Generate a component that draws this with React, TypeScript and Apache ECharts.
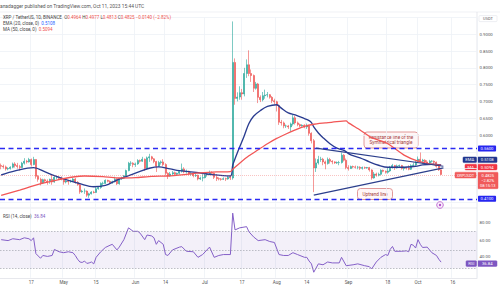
import React, { useEffect, useRef } from "react";
import * as echarts from "echarts";

// ---------- categories ----------
const START_UTC = Date.UTC(2023, 3, 4);
const DAY_COUNT = 206; // Apr 4 .. Oct 26 2023
const dates: string[] = [];
for (let i = 0; i < DAY_COUNT; i++) {
  dates.push(new Date(START_UTC + i * 86400000).toISOString().slice(0, 10));
}
const dateTicks: Record<string, string> = {
  "2023-04-17": "17", "2023-05-01": "May", "2023-05-15": "15", "2023-06-01": "Jun",
  "2023-06-14": "14", "2023-07-01": "Jul", "2023-07-17": "17", "2023-08-01": "Aug",
  "2023-08-14": "14", "2023-09-01": "Sep", "2023-09-18": "18", "2023-10-01": "Oct",
  "2023-10-16": "16",
};
const priceTickLabels = ["0.60", "0.65", "0.70", "0.75", "0.80", "0.85", "0.90"];
const rsiTickLabels = [40, 60, 80];

// ---------- daily candles [open, close, low, high] ----------
const aprCandles = [
  [0.509, 0.507, 0.498, 0.515], [0.507, 0.505, 0.5, 0.512], [0.505, 0.499, 0.494, 0.509], [0.499, 0.5, 0.495, 0.504],
  [0.5, 0.504, 0.497, 0.507], [0.504, 0.514, 0.501, 0.518], [0.514, 0.509, 0.503, 0.519], [0.509, 0.506, 0.5, 0.517],
  [0.506, 0.503, 0.494, 0.511], [0.503, 0.516, 0.502, 0.52], [0.516, 0.522, 0.512, 0.531], [0.522, 0.52, 0.515, 0.526],
  [0.52, 0.527, 0.518, 0.532], [0.527, 0.512, 0.506, 0.53], [0.512, 0.527, 0.51, 0.535], [0.527, 0.477, 0.47, 0.528],
  [0.477, 0.468, 0.461, 0.481], [0.468, 0.457, 0.45, 0.473], [0.457, 0.467, 0.454, 0.47], [0.467, 0.463, 0.458, 0.47],
  [0.463, 0.461, 0.452, 0.468], [0.461, 0.468, 0.455, 0.47], [0.468, 0.46, 0.452, 0.484], [0.46, 0.474, 0.458, 0.479],
  [0.474, 0.474, 0.468, 0.478], [0.474, 0.471, 0.468, 0.477], [0.471, 0.469, 0.465, 0.477],
];
const mayCandles = [
  [0.469, 0.46, 0.452, 0.472], [0.46, 0.463, 0.456, 0.466], [0.463, 0.461, 0.452, 0.466], [0.461, 0.462, 0.458, 0.467],
  [0.462, 0.469, 0.46, 0.473], [0.469, 0.459, 0.455, 0.472], [0.459, 0.452, 0.449, 0.463], [0.452, 0.431, 0.425, 0.454],
  [0.431, 0.433, 0.428, 0.437], [0.433, 0.433, 0.425, 0.441], [0.433, 0.421, 0.416, 0.435], [0.421, 0.425, 0.413, 0.428],
  [0.425, 0.43, 0.423, 0.433], [0.43, 0.429, 0.426, 0.434], [0.429, 0.44, 0.428, 0.445], [0.44, 0.444, 0.437, 0.447],
  [0.444, 0.456, 0.44, 0.459], [0.456, 0.456, 0.449, 0.461], [0.456, 0.465, 0.455, 0.468], [0.465, 0.462, 0.459, 0.467],
  [0.462, 0.458, 0.455, 0.465], [0.458, 0.461, 0.455, 0.464], [0.461, 0.468, 0.459, 0.476], [0.468, 0.455, 0.451, 0.47],
  [0.455, 0.47, 0.452, 0.472], [0.47, 0.471, 0.466, 0.476], [0.471, 0.478, 0.469, 0.481], [0.478, 0.494, 0.476, 0.497],
  [0.494, 0.516, 0.492, 0.52], [0.516, 0.516, 0.508, 0.522], [0.516, 0.512, 0.504, 0.519],
];
const junCandles = [
  [0.512, 0.514, 0.505, 0.518], [0.514, 0.524, 0.511, 0.528], [0.524, 0.522, 0.518, 0.527], [0.522, 0.528, 0.52, 0.535],
  [0.528, 0.501, 0.493, 0.53], [0.501, 0.532, 0.496, 0.536], [0.532, 0.535, 0.52, 0.544], [0.535, 0.529, 0.524, 0.538],
  [0.529, 0.521, 0.516, 0.531], [0.521, 0.507, 0.49, 0.523], [0.507, 0.518, 0.505, 0.523], [0.518, 0.52, 0.512, 0.524],
  [0.52, 0.512, 0.507, 0.528], [0.512, 0.486, 0.48, 0.516], [0.486, 0.478, 0.469, 0.489], [0.478, 0.484, 0.476, 0.49],
  [0.484, 0.488, 0.481, 0.493], [0.488, 0.483, 0.48, 0.491], [0.483, 0.486, 0.479, 0.488], [0.486, 0.492, 0.482, 0.495],
  [0.492, 0.499, 0.488, 0.515], [0.499, 0.49, 0.486, 0.504], [0.49, 0.492, 0.485, 0.497], [0.492, 0.484, 0.48, 0.494],
  [0.484, 0.484, 0.479, 0.49], [0.484, 0.479, 0.474, 0.488], [0.479, 0.48, 0.475, 0.486], [0.48, 0.469, 0.465, 0.482],
  [0.469, 0.472, 0.466, 0.476], [0.472, 0.473, 0.462, 0.487],
];
const julCandles = [
  [0.473, 0.481, 0.471, 0.485], [0.481, 0.483, 0.476, 0.487], [0.483, 0.488, 0.48, 0.494], [0.488, 0.486, 0.481, 0.492],
  [0.486, 0.474, 0.469, 0.488], [0.474, 0.47, 0.463, 0.484], [0.47, 0.469, 0.465, 0.474], [0.469, 0.468, 0.464, 0.472],
  [0.468, 0.47, 0.466, 0.474], [0.47, 0.469, 0.463, 0.473], [0.469, 0.474, 0.467, 0.478], [0.474, 0.472, 0.466, 0.481],
  [0.472, 0.816, 0.467, 0.938], [0.816, 0.709, 0.69, 0.828], [0.709, 0.713, 0.7, 0.727], [0.713, 0.726, 0.705, 0.745],
  [0.726, 0.722, 0.705, 0.737], [0.722, 0.783, 0.715, 0.8], [0.783, 0.809, 0.77, 0.825], [0.809, 0.783, 0.775, 0.852],
  [0.783, 0.777, 0.758, 0.795], [0.777, 0.739, 0.728, 0.78], [0.739, 0.752, 0.735, 0.758], [0.752, 0.712, 0.695, 0.755],
  [0.712, 0.705, 0.698, 0.718], [0.705, 0.717, 0.7, 0.728], [0.717, 0.719, 0.708, 0.735], [0.719, 0.72, 0.712, 0.728],
  [0.72, 0.712, 0.708, 0.722], [0.712, 0.702, 0.695, 0.716], [0.702, 0.699, 0.691, 0.708],
];
const augCandles = [
  [0.699, 0.688, 0.67, 0.702], [0.688, 0.638, 0.63, 0.69], [0.638, 0.636, 0.628, 0.645], [0.636, 0.627, 0.62, 0.64],
  [0.627, 0.627, 0.621, 0.631], [0.627, 0.624, 0.618, 0.63], [0.624, 0.633, 0.61, 0.637], [0.633, 0.651, 0.628, 0.66],
  [0.651, 0.636, 0.631, 0.657], [0.636, 0.631, 0.626, 0.64], [0.631, 0.627, 0.623, 0.634], [0.627, 0.629, 0.625, 0.632],
  [0.629, 0.624, 0.62, 0.632], [0.624, 0.627, 0.618, 0.634], [0.627, 0.605, 0.598, 0.63], [0.605, 0.583, 0.575, 0.608],
  [0.583, 0.502, 0.43, 0.588], [0.502, 0.517, 0.49, 0.53], [0.517, 0.527, 0.512, 0.538], [0.527, 0.528, 0.52, 0.535],
  [0.528, 0.52, 0.51, 0.532], [0.52, 0.515, 0.498, 0.524], [0.515, 0.527, 0.512, 0.533], [0.527, 0.522, 0.515, 0.532],
  [0.522, 0.52, 0.513, 0.525], [0.52, 0.517, 0.514, 0.522], [0.517, 0.518, 0.514, 0.521], [0.518, 0.518, 0.51, 0.523],
  [0.518, 0.54, 0.515, 0.548], [0.54, 0.525, 0.521, 0.543], [0.525, 0.503, 0.498, 0.53],
];
const sepCandles = [
  [0.503, 0.5, 0.494, 0.51], [0.5, 0.506, 0.499, 0.509], [0.506, 0.505, 0.501, 0.509], [0.505, 0.504, 0.5, 0.509],
  [0.504, 0.504, 0.498, 0.508], [0.504, 0.501, 0.496, 0.507], [0.501, 0.503, 0.497, 0.506], [0.503, 0.502, 0.499, 0.506],
  [0.502, 0.503, 0.5, 0.505], [0.503, 0.496, 0.491, 0.505], [0.496, 0.472, 0.467, 0.498], [0.472, 0.484, 0.47, 0.49],
  [0.484, 0.48, 0.476, 0.488], [0.48, 0.483, 0.477, 0.488], [0.483, 0.495, 0.48, 0.498], [0.495, 0.492, 0.489, 0.497],
  [0.492, 0.489, 0.485, 0.494], [0.489, 0.493, 0.485, 0.502], [0.493, 0.503, 0.49, 0.508], [0.503, 0.509, 0.5, 0.514],
  [0.509, 0.502, 0.496, 0.511], [0.502, 0.508, 0.5, 0.512], [0.508, 0.509, 0.504, 0.512], [0.509, 0.5, 0.497, 0.511],
  [0.5, 0.503, 0.494, 0.506], [0.503, 0.501, 0.497, 0.505], [0.501, 0.498, 0.495, 0.51], [0.498, 0.509, 0.496, 0.513],
  [0.509, 0.511, 0.505, 0.518], [0.511, 0.52, 0.509, 0.523],
];
const octCandles = [
  [0.52, 0.528, 0.517, 0.536], [0.528, 0.522, 0.518, 0.548], [0.522, 0.525, 0.514, 0.529], [0.525, 0.52, 0.515, 0.528],
  [0.52, 0.517, 0.512, 0.525], [0.517, 0.522, 0.514, 0.526], [0.522, 0.522, 0.518, 0.525], [0.522, 0.519, 0.513, 0.524],
  [0.519, 0.507, 0.503, 0.521], [0.507, 0.4964, 0.493, 0.51], [0.4964, 0.4825, 0.4813, 0.4977],
];

// ---------- indicators ----------
const ema20: [string, number][] = [
  ["2023-04-04", 0.481], ["2023-04-10", 0.493], ["2023-04-18", 0.503], ["2023-04-23", 0.49], ["2023-04-27", 0.479],
  ["2023-05-02", 0.467], ["2023-05-08", 0.455], ["2023-05-14", 0.446], ["2023-05-19", 0.45], ["2023-05-24", 0.466],
  ["2023-05-28", 0.476], ["2023-06-03", 0.492], ["2023-06-07", 0.501], ["2023-06-11", 0.505], ["2023-06-16", 0.499],
  ["2023-06-20", 0.494], ["2023-06-29", 0.487], ["2023-07-04", 0.482], ["2023-07-12", 0.478], ["2023-07-13", 0.51],
  ["2023-07-14", 0.529], ["2023-07-16", 0.564], ["2023-07-18", 0.598], ["2023-07-20", 0.634], ["2023-07-22", 0.656],
  ["2023-07-25", 0.673], ["2023-07-28", 0.685], ["2023-08-01", 0.69], ["2023-08-03", 0.68], ["2023-08-06", 0.666],
  ["2023-08-09", 0.66], ["2023-08-13", 0.649], ["2023-08-15", 0.643], ["2023-08-16", 0.637], ["2023-08-17", 0.624],
  ["2023-08-19", 0.606], ["2023-08-21", 0.592], ["2023-08-24", 0.574], ["2023-08-27", 0.561], ["2023-08-30", 0.554],
  ["2023-09-02", 0.541], ["2023-09-06", 0.532], ["2023-09-10", 0.52], ["2023-09-14", 0.51], ["2023-09-18", 0.504],
  ["2023-09-24", 0.504], ["2023-09-30", 0.507], ["2023-10-03", 0.511], ["2023-10-07", 0.513], ["2023-10-11", 0.5108],
];
const sma50: [string, number][] = [
  ["2023-04-04", 0.42], ["2023-04-12", 0.436], ["2023-04-20", 0.453], ["2023-04-28", 0.466], ["2023-05-05", 0.475],
  ["2023-05-10", 0.478], ["2023-05-18", 0.476], ["2023-05-24", 0.472], ["2023-06-01", 0.473], ["2023-06-08", 0.477],
  ["2023-06-15", 0.478], ["2023-06-22", 0.482], ["2023-06-29", 0.487], ["2023-07-06", 0.49], ["2023-07-12", 0.491],
  ["2023-07-13", 0.498], ["2023-07-16", 0.516], ["2023-07-20", 0.538], ["2023-07-24", 0.556], ["2023-07-28", 0.574],
  ["2023-08-01", 0.59], ["2023-08-05", 0.603], ["2023-08-09", 0.615], ["2023-08-13", 0.626], ["2023-08-17", 0.632],
  ["2023-08-22", 0.636], ["2023-08-27", 0.64], ["2023-08-31", 0.642], ["2023-09-01", 0.636], ["2023-09-06", 0.615],
  ["2023-09-11", 0.592], ["2023-09-18", 0.574], ["2023-09-25", 0.54], ["2023-10-01", 0.522], ["2023-10-06", 0.514],
  ["2023-10-11", 0.5094],
];
const rsi14: [string, number][] = [
  ["2023-04-04", 61], ["2023-04-07", 60], ["2023-04-09", 62], ["2023-04-12", 61], ["2023-04-14", 63], ["2023-04-16", 62],
  ["2023-04-17", 60], ["2023-04-18", 63], ["2023-04-19", 46], ["2023-04-21", 41], ["2023-04-22", 44], ["2023-04-24", 43],
  ["2023-04-26", 44], ["2023-04-27", 50.5], ["2023-04-29", 48], ["2023-05-01", 47], ["2023-05-03", 48], ["2023-05-05", 47],
  ["2023-05-06", 44], ["2023-05-07", 40], ["2023-05-08", 37], ["2023-05-09", 36.5], ["2023-05-10", 38], ["2023-05-11", 35.5],
  ["2023-05-12", 36], ["2023-05-13", 37], ["2023-05-14", 35], ["2023-05-15", 42], ["2023-05-17", 48], ["2023-05-19", 52.6],
  ["2023-05-21", 55], ["2023-05-22", 56], ["2023-05-24", 50], ["2023-05-25", 53], ["2023-05-27", 61], ["2023-05-29", 73.7],
  ["2023-05-31", 70], ["2023-06-02", 70], ["2023-06-03", 68], ["2023-06-05", 61], ["2023-06-06", 66], ["2023-06-08", 65],
  ["2023-06-09", 63], ["2023-06-10", 56], ["2023-06-11", 60], ["2023-06-13", 56], ["2023-06-14", 45], ["2023-06-15", 44],
  ["2023-06-17", 50], ["2023-06-20", 53], ["2023-06-21", 53.5], ["2023-06-23", 48.5], ["2023-06-26", 48], ["2023-06-28", 42],
  ["2023-06-30", 45], ["2023-07-03", 53], ["2023-07-05", 42], ["2023-07-07", 44], ["2023-07-09", 45], ["2023-07-12", 45],
  ["2023-07-13", 89.5], ["2023-07-14", 71.5], ["2023-07-16", 73.7], ["2023-07-19", 75], ["2023-07-20", 69.5], ["2023-07-22", 64],
  ["2023-07-24", 60], ["2023-07-27", 61], ["2023-07-29", 59], ["2023-07-31", 58], ["2023-08-02", 45], ["2023-08-04", 44],
  ["2023-08-06", 44], ["2023-08-08", 47], ["2023-08-10", 45], ["2023-08-13", 42], ["2023-08-14", 42], ["2023-08-15", 38],
  ["2023-08-16", 35], ["2023-08-17", 26], ["2023-08-19", 35], ["2023-08-21", 34], ["2023-08-23", 37], ["2023-08-25", 36],
  ["2023-08-28", 36], ["2023-08-29", 42], ["2023-08-31", 33], ["2023-09-03", 34], ["2023-09-05", 35], ["2023-09-08", 33],
  ["2023-09-10", 32], ["2023-09-11", 29.5], ["2023-09-13", 37], ["2023-09-15", 42], ["2023-09-17", 45], ["2023-09-18", 44],
  ["2023-09-19", 50.5], ["2023-09-20", 53.7], ["2023-09-21", 48.5], ["2023-09-24", 48.5], ["2023-09-26", 49], ["2023-09-27", 48],
  ["2023-09-28", 56], ["2023-09-29", 55], ["2023-09-30", 52], ["2023-10-01", 61], ["2023-10-02", 56], ["2023-10-03", 52.6],
  ["2023-10-05", 53], ["2023-10-07", 47], ["2023-10-09", 44], ["2023-10-10", 40], ["2023-10-11", 36.84],
];
const resistanceLine: [string, number][] = [["2023-08-18", 0.561], ["2023-10-12", 0.507]];
const uptrendLine: [string, number][] = [["2023-08-17", 0.421], ["2023-10-12", 0.502]];
const horizontalLevels = [0.56, 0.41];
const lastPrice = 0.4825;

const FONT = "Roboto, 'Liberation Sans', sans-serif";
const idx = (d: string) => dates.indexOf(d);
const toPairs = (arr: [string, number][]) => arr.map(([d, v]) => [idx(d), v]);
const showTick = (_i: number, v: string) => v in dateTicks;

function boxText(x: number, y: number, w: number, h: number, fill: string, text: string, color: string, fs = 4.2, stroke?: string) {
  return {
    type: "group",
    children: [
      { type: "rect", shape: { x, y, width: w, height: h, r: 0.8 }, style: { fill, stroke: stroke || fill, lineWidth: 0.5 } },
      {
        type: "text", x: x + w / 2, y: y + h / 2,
        style: { text, fill: color, fontSize: fs, fontFamily: FONT, align: "center", verticalAlign: "middle", lineHeight: fs + 1.2 },
      },
    ],
  };
}

const App = () => {
  const ref = useRef<HTMLDivElement>(null);
  useEffect(() => {
    document.body.style.margin = "0";
    const chart = echarts.init(ref.current!, undefined, { renderer: "svg" });
    const candles = [...aprCandles, ...mayCandles, ...junCandles, ...julCandles, ...augCandles, ...sepCandles, ...octCandles];
    const gridLine = "#eef1f6";
    const option: any = {
      animation: false,
      backgroundColor: "#ffffff",
      textStyle: { fontFamily: FONT },
      grid: [
        { left: 0, right: 23, top: 17.4, height: 184.8 },
        { left: 0, right: 23, top: 203.4, height: 74.4 },
      ],
      xAxis: [
        {
          type: "category", gridIndex: 0, data: dates, boundaryGap: true,
          axisLine: { show: false }, axisTick: { show: false }, axisLabel: { show: false },
          splitLine: { show: true, interval: showTick, lineStyle: { color: gridLine, width: 0.8 } },
        },
        {
          type: "category", gridIndex: 1, data: dates, boundaryGap: true,
          axisLine: { show: true, lineStyle: { color: "#d6d9e0", width: 0.6 } }, axisTick: { show: false },
          axisLabel: { show: true, interval: showTick, formatter: (v: string) => dateTicks[v] || "", fontSize: 4.5, color: "#555", margin: 2.5, fontFamily: FONT },
          splitLine: { show: true, interval: showTick, lineStyle: { color: gridLine, width: 0.8 } },
        },
      ],
      yAxis: [
        {
          type: "value", gridIndex: 0, position: "right", min: 0.4, max: 0.95, interval: 0.05,
          axisLine: { show: false }, axisTick: { show: false },
          axisLabel: {
            formatter: (v: number) => (priceTickLabels.includes(v.toFixed(2)) ? v.toFixed(4) : ""),
            fontSize: 4.3, color: "#555", margin: 2.5, fontFamily: FONT,
          },
          splitLine: { show: true, lineStyle: { color: gridLine, width: 0.8 } },
        },
        {
          type: "value", gridIndex: 1, position: "right", min: 20, max: 100, interval: 20,
          axisLine: { show: false }, axisTick: { show: false },
          axisLabel: {
            formatter: (v: number) => {
              const r = Math.round(v);
              if (!rsiTickLabels.includes(r)) return "";
              return r === 40 ? "{up|" + v.toFixed(2) + "}" : v.toFixed(2);
            },
            rich: { up: { fontSize: 4.3, color: "#555", fontFamily: FONT, padding: [0, 0, 5, 0] } },
            fontSize: 4.3, color: "#555", margin: 2.5, fontFamily: FONT,
          },
          splitLine: { show: false },
        },
      ],
      series: [
        {
          type: "candlestick", xAxisIndex: 0, yAxisIndex: 0, data: candles, barWidth: 1.5,
          itemStyle: { color: "#26a69a", color0: "#ef5350", borderColor: "#26a69a", borderColor0: "#ef5350", borderWidth: 0.6 },
          markLine: {
            symbol: ["none", "none"], silent: true,
            data: [
              ...horizontalLevels.map((v) => ({
                yAxis: v,
                lineStyle: { color: "#2b2bf2", width: 1.4, type: [5, 3.5] },
                label: {
                  show: true, position: "end", distance: 1, formatter: v.toFixed(4), color: "#fff",
                  backgroundColor: "#2626f0", padding: [1, 2.6], fontSize: 4.2, borderRadius: 0.8, fontFamily: FONT,
                },
              })),
              { yAxis: lastPrice, lineStyle: { color: "#ef5350", width: 0.5, type: [1, 1], opacity: 0.7 }, label: { show: false } },
            ],
          },
          z: 2,
        },
        {
          type: "line", name: "EMA", xAxisIndex: 0, yAxisIndex: 0, data: toPairs(ema20), showSymbol: false, smooth: 0.35,
          lineStyle: { color: "#2a3c90", width: 1.35 }, z: 4,
        },
        {
          type: "line", name: "MA", xAxisIndex: 0, yAxisIndex: 0, data: toPairs(sma50), showSymbol: false, smooth: 0.2,
          lineStyle: { color: "#f25656", width: 1.3 }, z: 4,
        },
        {
          type: "line", xAxisIndex: 0, yAxisIndex: 0, data: toPairs(resistanceLine), showSymbol: false,
          lineStyle: { color: "#2c3f8c", width: 1.2 }, z: 5,
        },
        {
          type: "line", xAxisIndex: 0, yAxisIndex: 0, data: toPairs(uptrendLine), showSymbol: false,
          lineStyle: { color: "#2c3f8c", width: 1.2 }, z: 5,
        },
        {
          type: "line", name: "RSI", xAxisIndex: 1, yAxisIndex: 1, data: toPairs(rsi14), showSymbol: false,
          lineStyle: { color: "#8560c8", width: 1 }, z: 4,
          markArea: { silent: true, itemStyle: { color: "rgba(126,87,194,0.09)" }, data: [[{ yAxis: 30 }, { yAxis: 70 }]] },
          markLine: {
            symbol: ["none", "none"], silent: true, label: { show: false },
            lineStyle: { color: "#9598a1", width: 0.6, type: [1.5, 1.5] },
            data: [{ yAxis: 70 }, { yAxis: 50 }, { yAxis: 30 }],
          },
        },
      ],
      graphic: [
        // frame lines
        { type: "line", shape: { x1: 0, y1: 12, x2: 500, y2: 12 }, style: { stroke: "#e6e8ee", lineWidth: 0.6 } },
        { type: "line", shape: { x1: 477, y1: 12, x2: 477, y2: 278 }, style: { stroke: "#d6d9e0", lineWidth: 0.6 } },
        { type: "line", shape: { x1: 0, y1: 208, x2: 477, y2: 208 }, style: { stroke: "#d6d9e0", lineWidth: 0.6 } },
        // header
        { type: "text", x: 0, y: 6, style: { text: "anadagger published on TradingView.com, Oct 11, 2023 15:44 UTC", fill: "#555", fontSize: 4.9, fontFamily: FONT, verticalAlign: "middle" } },
        {
          type: "text", x: 3, y: 17, z: 10,
          style: {
            text: "{g|XRP / TetherUS, 1D, BINANCE}  {g|O}{r|0.4964} {g|H}{r|0.4977} {g|L}{r|0.4813} {g|C}{r|0.4825} {r|\u22120.0140 (\u22122.82%)}",
            verticalAlign: "middle", fontFamily: FONT, fontSize: 4.5,
            rich: { g: { fill: "#444", fontSize: 4.5, fontFamily: FONT }, r: { fill: "#ef5350", fontSize: 4.5, fontFamily: FONT } },
          },
        },
        {
          type: "text", x: 3, y: 23.5, z: 10,
          style: {
            text: "{g|EMA (20, close, 0)}  {b|0.5108}", verticalAlign: "middle", fontFamily: FONT, fontSize: 4.5,
            rich: { g: { fill: "#444", fontSize: 4.5, fontFamily: FONT }, b: { fill: "#2962ff", fontSize: 4.5, fontFamily: FONT } },
          },
        },
        {
          type: "text", x: 3, y: 29.5, z: 10,
          style: {
            text: "{g|MA (50, close, 0)}  {r|0.5094}", verticalAlign: "middle", fontFamily: FONT, fontSize: 4.5,
            rich: { g: { fill: "#444", fontSize: 4.5, fontFamily: FONT }, r: { fill: "#ef5350", fontSize: 4.5, fontFamily: FONT } },
          },
        },
        {
          type: "text", x: 3, y: 216, z: 10,
          style: {
            text: "{g|RSI (14, close)}  {p|36.84}", verticalAlign: "middle", fontFamily: FONT, fontSize: 4.5,
            rich: { g: { fill: "#444", fontSize: 4.5, fontFamily: FONT }, p: { fill: "#7e57c2", fontSize: 4.5, fontFamily: FONT } },
          },
        },
        // axis badges
        boxText(479, 15.6, 18, 6, "#ffffff", "USDT", "#555", 4, "#dcdfe6"),
        boxText(463, 157, 13.5, 5.6, "#22378f", "EMA", "#fff"),
        boxText(477.5, 157, 19.5, 5.6, "#22378f", "0.5108", "#fff"),
        boxText(465, 164.3, 11.5, 5.6, "#f23645", "MA", "#fff"),
        boxText(477.5, 164.3, 19.5, 5.6, "#f23645", "0.5094", "#fff"),
        boxText(455, 172.2, 21, 5.8, "#f05a5a", "XRPUSDT", "#fff", 4),
        boxText(477.5, 172.2, 20.5, 16.5, "#f05a5a", "0.4825\n\u22122.82%\n08:15:13", "#fff", 4),
        boxText(466, 260.8, 10.5, 5.6, "#7e57c2", "RSI", "#fff"),
        boxText(477.5, 260.8, 19.5, 5.6, "#7e57c2", "36.84", "#fff"),
        // callouts
        {
          type: "group", z: 20,
          children: [
            { type: "rect", shape: { x: 364, y: 132, width: 54, height: 16, r: 3 }, style: { fill: "rgba(255,246,246,0.95)", stroke: "#d98080", lineWidth: 0.8 } },
            { type: "text", x: 391, y: 140, style: { text: "Resistance line of the\nSymmetrical triangle", fill: "#a33a3a", fontSize: 4.7, fontFamily: FONT, align: "center", verticalAlign: "middle", lineHeight: 5.8 } },
            { type: "rect", shape: { x: 357.5, y: 188.5, width: 35, height: 11, r: 3 }, style: { fill: "rgba(255,246,246,0.95)", stroke: "#d98080", lineWidth: 0.8 } },
            { type: "text", x: 375, y: 194, style: { text: "Uptrend line", fill: "#a33a3a", fontSize: 4.7, fontFamily: FONT, align: "center", verticalAlign: "middle" } },
          ],
        },
        // event marker
        { type: "circle", shape: { cx: 440, cy: 205, r: 3.3 }, style: { fill: "#fbf2fd", stroke: "#b04cc8", lineWidth: 0.8 }, z: 20 },
        { type: "circle", shape: { cx: 440, cy: 205, r: 1.2 }, style: { fill: "#b04cc8" }, z: 21 },
      ],
    };
    chart.setOption(option);
    return () => chart.dispose();
  }, []);
  return <div ref={ref} style={{ position: "fixed", left: 0, top: 0, width: 500, height: 287, background: "#fff" }} />;
};

export default App;
